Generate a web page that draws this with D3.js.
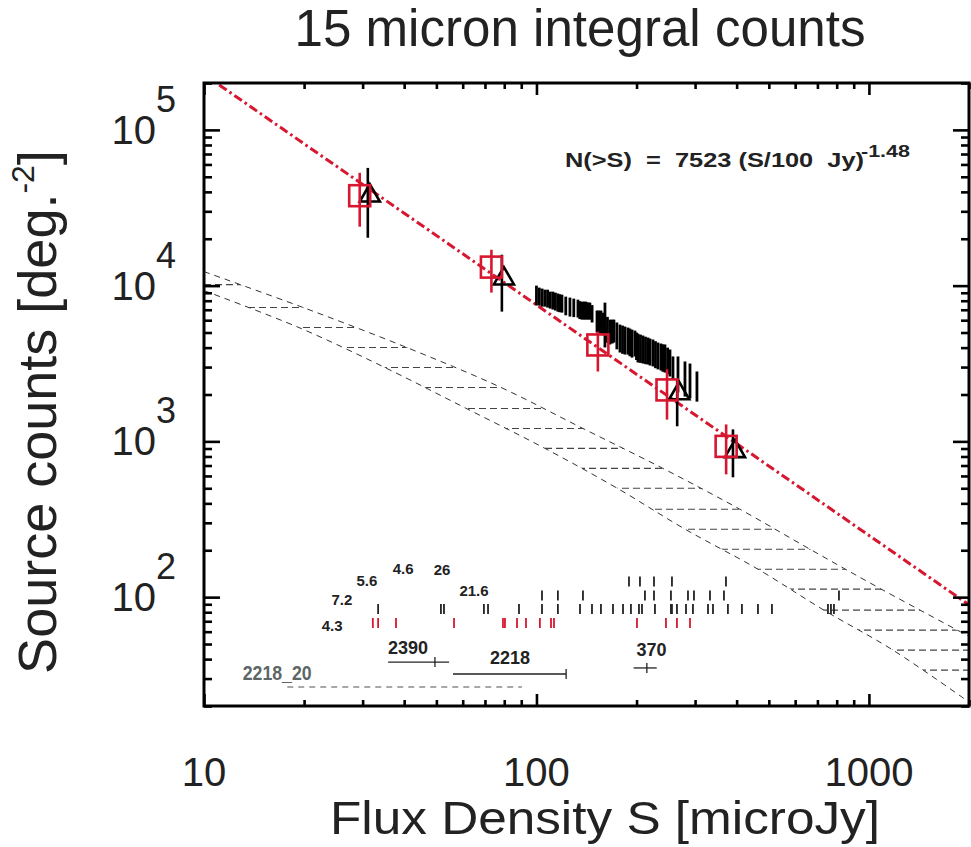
<!DOCTYPE html>
<html>
<head>
<meta charset="utf-8">
<script src="https://cdn.jsdelivr.net/npm/d3@7"></script>
<style>
  body { margin: 0; background: #fff; }
  svg { display: block; font-family: "Liberation Sans", Arial, Helvetica, sans-serif; }
</style>
</head>
<body>
<div id="chart"></div>
<script>
// ---------- data (flux in microJy, counts in deg^-2) ----------

// red squares with error bars
const sqS  = [29.4, 73.2, 153, 247, 372];
const sqN  = [37800, 13150, 4160, 2140, 929];
const sqLo = [23900, 9020, 2810, 1380, 614];
const sqHi = [53000, 17000, 5070, 2900, 1285];

// black triangles with error bars
const triS  = [31.1, 78.7, 265, 390];
const triN  = [37800, 11090, 2030, 863];
const triLo = [20300, 6810, 1250, 588];
const triHi = [57000, 15800, 2500, 1194];

// dense black error bars between 100 and 300 microJy
const clusterS  = [100, 102, 104, 106, 108, 110, 112, 114, 116, 117.5, 119.3, 122.5, 126.1, 129.5, 133.3,
                   135, 137, 139, 140.9, 143, 144.8, 147, 152.1, 154, 156.3, 158.5, 160.7, 163.5, 166.4,
                   169, 171, 174.5, 178.3, 181.5, 184.6, 188.5, 191, 193.8, 197.8, 199.9, 202, 205.5,
                   209.1, 212.8, 216.5, 219.5, 224.1, 228, 232, 236.8, 240, 243.5, 248, 252.1, 257.4,
                   266.5, 279.7, 289.6, 303.9];
const clusterHi = [10000, 9710, 9570, 9420, 9420, 9150, 9150, 9020, 8900, 8800, 8750, 8500, 8380, 8250, 8130,
                   7950, 7890, 7900, 7890, 7800, 7780, 7500, 6920, 6920, 6920, 6700, 7780, 6300, 6050,
                   6050, 6050, 5800, 5620, 5540, 5460, 5380, 5300, 5220, 5146, 5000, 4920, 4850,
                   4780, 4700, 4640, 4571, 4510, 4400, 4310, 4250, 4200, 4190, 4000, 3890, 3510,
                   3510, 3260, 3160, 2810];
const clusterLo = [7450, 7450, 7330, 7330, 7230, 7120, 7020, 6920, 6800, 6750, 6710, 6450, 6330, 6280, 6240,
                   6100, 6050, 6050, 6050, 6050, 6050, 5800, 5000, 4960, 4920, 4800, 4010, 4300, 4190,
                   4250, 4310, 3900, 3720, 3650, 3610, 3610, 3520, 3450, 3510, 3330, 3210, 3190,
                   3160, 3130, 3116, 3070, 3030, 2950, 2900, 2851, 2800, 2766, 2700, 2610, 2500,
                   2060, 1940, 1886, 1800];

// power-law fit N(>S) = 7523 (S/100)^-1.48
const fitNorm = 7523, fitS0 = 100, fitSlope = -1.48;
const fitRange = [10, 2000];

// no-evolution model band (upper and lower edge) and its hatch levels
const upperS = [10, 19.9, 40.8, 78.2, 138, 240, 409, 665, 1094, 2000];
const upperN = [12300, 7230, 4000, 2220, 1210, 671, 367, 203, 112, 56];
const lowerS = [10, 19.3, 35.0, 61.4, 106, 175, 280, 464, 732, 1181, 2000];
const lowerN = [9290, 5380, 2980, 1630, 902, 500, 273, 151, 82.5, 45.7, 21.2];
const hatchN = [10150, 7230, 5380, 4005, 2982, 2220, 1627, 1211, 902, 671, 500, 367, 273, 203, 151,
                112.5, 82.5, 61.4, 45.7, 34.0];

// rows of short flux markers near the bottom
const rowN    = [126, 102.5, 83.9];
const rowTopS = [189.8, 204.8, 225.7, 255.6, 371.5];
const rowMidS = [103.9, 116.0, 138.0, 212.0, 225.7, 253.8, 285.6, 297.7, 332.6, 366.4, 812.6];
const rowLowS = [33.4, 51.6, 52.7, 69.5, 71.5, 88.6, 103.9, 116.0, 135.2, 146.9, 156.3, 169.9, 182.1, 192.4,
                 203.4, 207.7, 227.2, 253.8, 255.6, 264.6, 281.7, 295.6, 328.1, 339.6, 376.6, 415.0, 463.7,
                 510.9, 753.0, 768.8, 784.9];
const redRowN = 68.2;
const redRowS = [32.2, 33.4, 37.8, 56.5, 79.3, 80.4, 87.4, 93.0, 102.4, 110.6, 112.9, 200.6, 245.2, 264.6, 289.6];

// small numeric labels
const noteText = ["4.6", "26", "5.6", "21.6", "7.2", "4.3"];
const noteS    = [39.7, 52.0, 30.9, 64.9, 26.0, 24.3];
const noteN    = [151.6, 149.4, 126.9, 109.5, 95.9, 65.3];

// flux ranges of the individual fields
const rangeName   = ["2390", "2218", "370"];
const rangeFrom   = [35.8, 56.1, 196];
const rangeTo     = [54.6, 122.8, 230];
const rangeMark   = [49.5, 122.8, 214.8];
const rangeN      = [38.3, 32.1, 35.1];
const rangeLabelS = [41.1, 83.2, 222];
const rangeLabelN = [47.8, 40.7, 45.8];
const grayName = "2218_20", grayFrom = 17.8, grayTo = 90.4, grayN = 26.5, grayLabelS = 16.6, grayLabelN = 32.8;

// axes
const xTickVals = [10, 100, 1000];
const xTickText = ["10", "100", "1000"];
const yTickVals = [100, 1000, 10000, 100000];
const yTickExp  = ["2", "3", "4", "5"];

// ---------- drawing ----------
const W = 971, H = 847;
const m = { l: 204, r: 969, t: 83, b: 706 };
const red = "#d7172f", ink = "#222";

const x = d3.scaleLog().domain([10, 2000]).range([m.l, m.r]);
const y = d3.scaleLog().domain([20, 2e5]).range([m.b, m.t]);

const svg = d3.select("#chart").append("svg").attr("width", W).attr("height", H);
const defs = svg.append("defs");
defs.append("clipPath").attr("id", "plotClip").append("rect")
  .attr("x", m.l).attr("y", m.t).attr("width", m.r - m.l).attr("height", m.b - m.t);

const line = d3.line().x(d => x(d[0])).y(d => y(d[1])).curve(d3.curveCatmullRom.alpha(0.5));
const upper = d3.zip(upperS, upperN);
const lower = d3.zip(lowerS, lowerN);

// region between the two model curves, used to clip the hatching
defs.append("clipPath").attr("id", "bandClip").append("path")
  .attr("d", line(upper) + "L" + line(lower.slice().reverse()).slice(1) + "Z");

const plot = svg.append("g").attr("clip-path", "url(#plotClip)");

// hatching
plot.append("g").attr("clip-path", "url(#bandClip)")
  .selectAll("line").data(hatchN).enter().append("line")
  .attr("x1", m.l).attr("x2", m.r)
  .attr("y1", d => y(d)).attr("y2", d => y(d))
  .attr("stroke", "#444").attr("stroke-width", 1.1).attr("stroke-dasharray", "7,4");

// band edges
[upper, lower].forEach(c => {
  plot.append("path").datum(c).attr("d", line)
    .attr("fill", "none").attr("stroke", "#333").attr("stroke-width", 1)
    .attr("stroke-dasharray", "6,5");
});

// fit line
plot.append("path")
  .datum(fitRange.map(s => [s, fitNorm * Math.pow(s / fitS0, fitSlope)]))
  .attr("d", d3.line().x(d => x(d[0])).y(d => y(d[1])))
  .attr("fill", "none").attr("stroke", red).attr("stroke-width", 3)
  .attr("stroke-dasharray", "9,3.5,2.5,3.5");

// dense cluster
plot.append("g").selectAll("line").data(clusterS).enter().append("line")
  .attr("x1", d => x(d)).attr("x2", d => x(d))
  .attr("y1", (d, i) => y(clusterHi[i])).attr("y2", (d, i) => y(clusterLo[i]))
  .attr("stroke", "#000").attr("stroke-width", 2.8);

// triangles + error bars
plot.append("g").selectAll("line").data(triS).enter().append("line")
  .attr("x1", d => x(d)).attr("x2", d => x(d))
  .attr("y1", (d, i) => y(triHi[i])).attr("y2", (d, i) => y(triLo[i]))
  .attr("stroke", "#000").attr("stroke-width", 2.6);
plot.append("g").selectAll("path").data(triS).enter().append("path")
  .attr("d", d3.symbol(d3.symbolTriangle, 175))
  .attr("transform", (d, i) => `translate(${x(d) + 2},${y(triN[i])})`)
  .attr("fill", "none").attr("stroke", "#000").attr("stroke-width", 2.6);

// squares + error bars
plot.append("g").selectAll("line").data(sqS).enter().append("line")
  .attr("x1", d => x(d)).attr("x2", d => x(d))
  .attr("y1", (d, i) => y(sqHi[i])).attr("y2", (d, i) => y(sqLo[i]))
  .attr("stroke", red).attr("stroke-width", 2.6);
plot.append("g").selectAll("rect").data(sqS).enter().append("rect")
  .attr("x", d => x(d) - 10.5).attr("y", (d, i) => y(sqN[i]) - 10.5)
  .attr("width", 21).attr("height", 21)
  .attr("fill", "none").attr("stroke", red).attr("stroke-width", 2.6);

// rows of flux markers
const rows = [[rowTopS, rowN[0], ink], [rowMidS, rowN[1], ink], [rowLowS, rowN[2], ink], [redRowS, redRowN, red]];
rows.forEach(([vals, n, col]) => {
  plot.append("g").selectAll("line").data(vals).enter().append("line")
    .attr("x1", d => x(d)).attr("x2", d => x(d))
    .attr("y1", y(n) - 5).attr("y2", y(n) + 5)
    .attr("stroke", col).attr("stroke-width", 1.8);
});

// small labels
svg.append("g").selectAll("text").data(noteText).enter().append("text")
  .attr("x", (d, i) => x(noteS[i])).attr("y", (d, i) => y(noteN[i]))
  .attr("dy", "0.36em").attr("text-anchor", "middle")
  .attr("font-size", 15).attr("font-weight", "bold").attr("fill", ink)
  .text(d => d);

// field ranges
rangeName.forEach((name, i) => {
  const g = svg.append("g");
  g.append("line").attr("x1", x(rangeFrom[i])).attr("x2", x(rangeTo[i]))
    .attr("y1", y(rangeN[i])).attr("y2", y(rangeN[i]))
    .attr("stroke", ink).attr("stroke-width", 1.3);
  g.append("line").attr("x1", x(rangeMark[i])).attr("x2", x(rangeMark[i]))
    .attr("y1", y(rangeN[i]) - 5).attr("y2", y(rangeN[i]) + 5)
    .attr("stroke", ink).attr("stroke-width", 1.3);
  g.append("text").attr("x", x(rangeLabelS[i])).attr("y", y(rangeLabelN[i]))
    .attr("dy", "0.36em").attr("text-anchor", "middle")
    .attr("font-size", 18).attr("font-weight", "bold").attr("fill", ink).text(name);
});
svg.append("line").attr("x1", x(grayFrom)).attr("x2", x(grayTo))
  .attr("y1", y(grayN)).attr("y2", y(grayN))
  .attr("stroke", "#8a8a8a").attr("stroke-width", 1.5).attr("stroke-dasharray", "6,5");
svg.append("text").attr("x", x(grayLabelS)).attr("y", y(grayLabelN))
  .attr("dy", "0.36em").attr("text-anchor", "middle")
  .attr("font-size", 20).attr("font-weight", "bold").attr("fill", "#5c6666")
  .attr("textLength", 69).attr("lengthAdjust", "spacingAndGlyphs").text(grayName);

// equation
svg.append("text").attr("x", 565).attr("y", 167)
  .attr("font-size", 20).attr("font-weight", "bold").attr("fill", ink)
  .attr("textLength", 299).attr("lengthAdjust", "spacingAndGlyphs")
  .style("white-space", "pre").text("N(>S)  =  7523 (S/100  Jy)");
svg.append("text").attr("x", 861).attr("y", 157)
  .attr("font-size", 17).attr("font-weight", "bold").attr("fill", ink)
  .attr("textLength", 49).attr("lengthAdjust", "spacingAndGlyphs").text("-1.48");

// axes: inward ticks on all four sides
const isMajor = v => Math.abs(Math.log10(v) - Math.round(Math.log10(v))) < 1e-9;
const xMinor = x.ticks().filter(v => !isMajor(v));
const xMajor = x.ticks().filter(isMajor);
const yMinor = y.ticks().filter(v => !isMajor(v));
const yMajor = y.ticks().filter(isMajor);

function ticks(axis, vals, len, tr) {
  svg.append("g").attr("transform", tr)
    .call(axis.tickValues(vals).tickSize(-len).tickFormat(""))
    .call(g => {
      g.select(".domain").remove();
      g.selectAll("line").attr("stroke", "#000").attr("stroke-width", 2.6);
    });
}
ticks(d3.axisBottom(x), xMinor, 6, `translate(0,${m.b})`);
ticks(d3.axisBottom(x), xMajor, 12, `translate(0,${m.b})`);
ticks(d3.axisTop(x), xMinor, 6, `translate(0,${m.t})`);
ticks(d3.axisTop(x), xMajor, 12, `translate(0,${m.t})`);
ticks(d3.axisLeft(y), yMinor, 8, `translate(${m.l},0)`);
ticks(d3.axisLeft(y), yMajor, 16, `translate(${m.l},0)`);
ticks(d3.axisRight(y), yMinor, 8, `translate(${m.r},0)`);
ticks(d3.axisRight(y), yMajor, 16, `translate(${m.r},0)`);

svg.append("rect").attr("x", m.l).attr("y", m.t)
  .attr("width", m.r - m.l).attr("height", m.b - m.t)
  .attr("fill", "none").attr("stroke", "#000").attr("stroke-width", 3);

// tick labels
svg.append("g").selectAll("text").data(xTickVals).enter().append("text")
  .attr("x", d => x(d)).attr("y", 786).attr("text-anchor", "middle")
  .attr("font-size", 40).attr("fill", ink)
  .text((d, i) => xTickText[i]);

const yl = svg.append("g").selectAll("g").data(yTickVals).enter().append("g");
yl.append("text").attr("x", 156).attr("y", d => y(d) + 14).attr("text-anchor", "end")
  .attr("font-size", 40).attr("fill", ink).text("10");
yl.append("text").attr("x", 156).attr("y", d => y(d) - 18)
  .attr("font-size", 36).attr("fill", ink).text((d, i) => yTickExp[i]);

// titles
svg.append("text").attr("x", 580).attr("y", 46).attr("text-anchor", "middle")
  .attr("font-size", 51).attr("fill", ink)
  .attr("textLength", 571).attr("lengthAdjust", "spacingAndGlyphs")
  .text("15 micron integral counts");

svg.append("text").attr("x", 605).attr("y", 834).attr("text-anchor", "middle")
  .attr("font-size", 46).attr("fill", ink)
  .attr("textLength", 550).attr("lengthAdjust", "spacingAndGlyphs")
  .text("Flux Density S [microJy]");

const yt = svg.append("text").attr("transform", "translate(56,412) rotate(-90)")
  .attr("text-anchor", "middle").attr("font-size", 54).attr("fill", ink);
yt.append("tspan").text("Source counts [deg.");
yt.append("tspan").attr("font-size", 32).attr("dy", -22).text("-2");
yt.append("tspan").attr("dy", 22).text("]");
</script>
</body>
</html>
